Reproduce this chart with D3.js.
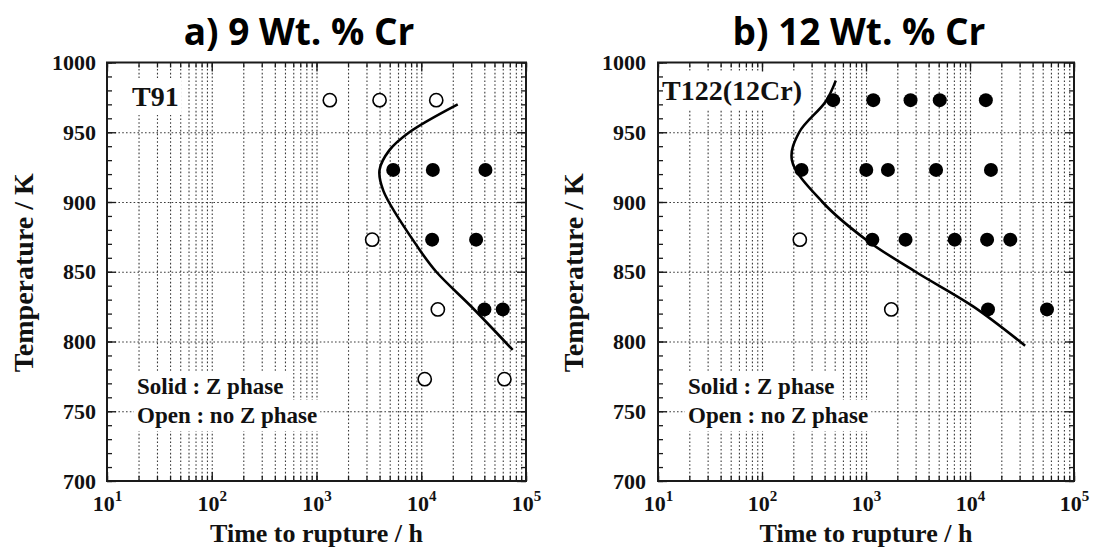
<!DOCTYPE html>
<html>
<head>
<meta charset="utf-8">
<script src="https://cdn.jsdelivr.net/npm/d3@7"></script>
<style>
  html, body { margin: 0; padding: 0; background: #fff; }
  svg { display: block; }
</style>
</head>
<body>
<svg id="fig" width="1096" height="554"></svg>
<script>
// ---- Creep-rupture data: [time to rupture (h), test temperature (K)] ----

// a) T91, 9 wt.% Cr
const t91Solid = [
  [5400, 923], [12900, 923], [41000, 923],
  [12700, 873], [33400, 873],
  [40100, 823], [60000, 823]
];
const t91Open = [
  [1340, 973], [4000, 973], [13900, 973],
  [3400, 873],
  [14400, 823],
  [10800, 773], [62200, 773]
];
// Z-phase formation boundary
const t91BoundaryTime = [22300, 7700, 4950, 4000, 4350, 9600, 13900, 31000, 74600];
const t91BoundaryTemp = [970, 950, 937, 923, 908, 866, 850, 824, 794];

// b) T122, 12 wt.% Cr
const t122Solid = [
  [483, 973], [1175, 973], [2680, 973], [5120, 973], [14200, 973],
  [240, 923], [1006, 923], [1625, 923], [4720, 923], [15900, 923],
  [1150, 873], [2400, 873], [7130, 873], [14600, 873], [24400, 873],
  [14900, 823], [55000, 823]
];
const t122Open = [
  [231, 873],
  [1750, 823]
];
const t122BoundaryTime = [512, 410, 228, 194, 381, 1000, 2990, 10800, 33900];
const t122BoundaryTemp = [987, 972, 950, 930, 900, 873, 850, 825, 797];

// ---- Axes ----
const timeDomain = [10, 1e5];
const tempDomain = [700, 1000];
const timeLabelValues = [1e1, 1e2, 1e3, 1e4, 1e5];
const tempLabelValues = [700, 750, 800, 850, 900, 950, 1000];
const tempGridValues = [750, 800, 850, 900, 950];
const panelTitles = ["a) 9 Wt. % Cr", "b) 12 Wt. % Cr"];
const steelNames = ["T91", "T122(12Cr)"];
const legendLines = ["Solid : Z phase", "Open : no Z phase"];
const xAxisTitle = "Time to rupture / h";
const yAxisTitle = "Temperature / K";

// ---- Layout ----
const SERIF = "'Liberation Serif', 'Times New Roman', serif";
const SANS = "'Open Sans', 'Noto Sans', sans-serif";
const plotTop = 62.5, plotBottom = 481;

const panels = [
  {
    title: panelTitles[0], name: steelNames[0],
    solid: t91Solid, open: t91Open,
    bTime: t91BoundaryTime, bTemp: t91BoundaryTemp,
    x0: 107, x1: 526, titleX: 299, nameDx: 25, nameY: 106, legendDx: 30,
    yTitleX: 33, yPad: 11
  },
  {
    title: panelTitles[1], name: steelNames[1],
    solid: t122Solid, open: t122Open,
    bTime: t122BoundaryTime, bTemp: t122BoundaryTemp,
    x0: 658, x1: 1074, titleX: 859, nameDx: 4, nameY: 100, legendDx: 30,
    yTitleX: 583, yPad: 12
  }
];

const svg = d3.select("#fig");
svg.append("rect").attr("width", 1096).attr("height", 554).attr("fill", "#fff");

panels.forEach(p => {
  const w = p.x1 - p.x0, h = plotBottom - plotTop;
  const x = d3.scaleLog().domain(timeDomain).range([0, w]);
  const y = d3.scaleLinear().domain(tempDomain).range([h, 0]);

  const g = svg.append("g").attr("transform", `translate(${p.x0},${plotTop})`);
  const gridG = g.append("g");
  const maskG = g.append("g");
  const dataG = g.append("g");
  const tickG = g.append("g");
  const textG = g.append("g");

  const allTimeTicks = x.ticks();
  const innerTimeTicks = allTimeTicks.filter(v => v > timeDomain[0] && v < timeDomain[1]);

  // dotted grid
  const vGrid = gridG.append("g").attr("transform", `translate(0,${h})`)
    .call(d3.axisBottom(x).tickValues(innerTimeTicks).tickSize(-h).tickFormat(""));
  const hGrid = gridG.append("g")
    .call(d3.axisLeft(y).tickValues(tempGridValues).tickSize(-w).tickFormat(""));
  [vGrid, hGrid].forEach(a => {
    a.select(".domain").remove();
    a.selectAll("line").attr("stroke", "#3a3a3a").attr("stroke-width", 1.1)
      .attr("stroke-dasharray", "1.6,2.2");
  });

  // boundary curve
  const curvePts = p.bTime.map((t, i) => [t, p.bTemp[i]]);
  dataG.append("path")
    .datum(curvePts)
    .attr("fill", "none").attr("stroke", "#000").attr("stroke-width", 2.6)
    .attr("d", d3.line().x(d => x(d[0])).y(d => y(d[1])).curve(d3.curveCatmullRom.alpha(0.5)));

  // markers
  dataG.selectAll("circle.solid").data(p.solid).join("circle")
    .attr("class", "solid")
    .attr("cx", d => x(d[0])).attr("cy", d => y(d[1])).attr("r", 7)
    .attr("fill", "#000");
  dataG.selectAll("circle.open").data(p.open).join("circle")
    .attr("class", "open")
    .attr("cx", d => x(d[0])).attr("cy", d => y(d[1])).attr("r", 6.6)
    .attr("fill", "#fff").attr("stroke", "#000").attr("stroke-width", 1.6);

  // inward ticks on all four sides
  const tempMinor = d3.range(tempDomain[0], tempDomain[1] + 1, 10);
  const timeMajor = timeLabelValues;
  const tickSets = [
    g => g.attr("transform", `translate(0,${h})`).call(d3.axisBottom(x).tickValues(allTimeTicks).tickSize(-5).tickFormat("")),
    g => g.attr("transform", `translate(0,${h})`).call(d3.axisBottom(x).tickValues(timeMajor).tickSize(-9).tickFormat("")),
    g => g.call(d3.axisTop(x).tickValues(allTimeTicks).tickSize(-5).tickFormat("")),
    g => g.call(d3.axisTop(x).tickValues(timeMajor).tickSize(-9).tickFormat("")),
    g => g.call(d3.axisLeft(y).tickValues(tempMinor).tickSize(-5).tickFormat("")),
    g => g.call(d3.axisLeft(y).tickValues(tempLabelValues).tickSize(-9).tickFormat("")),
    g => g.attr("transform", `translate(${w},0)`).call(d3.axisRight(y).tickValues(tempMinor).tickSize(-5).tickFormat("")),
    g => g.attr("transform", `translate(${w},0)`).call(d3.axisRight(y).tickValues(tempLabelValues).tickSize(-9).tickFormat(""))
  ];
  tickSets.forEach(fn => {
    const a = tickG.append("g").call(fn);
    a.select(".domain").remove();
    a.selectAll("line").attr("stroke", "#1a1a1a").attr("stroke-width", 1.3);
  });

  // frame
  tickG.append("rect").attr("width", w).attr("height", h)
    .attr("fill", "none").attr("stroke", "#1a1a1a").attr("stroke-width", 2);

  // tick labels
  const yAx = textG.append("g")
    .call(d3.axisLeft(y).tickValues(tempLabelValues).tickSize(0).tickPadding(p.yPad)
      .tickFormat(d3.format("d")));
  yAx.select(".domain").remove();
  yAx.selectAll("text").attr("font-family", SERIF).attr("font-weight", "bold")
    .attr("font-size", 22).attr("fill", "#111");

  const xAx = textG.append("g").attr("transform", `translate(0,${h})`)
    .call(d3.axisBottom(x).tickValues(timeLabelValues).tickSize(0).tickPadding(10).tickFormat(""));
  xAx.select(".domain").remove();
  xAx.selectAll(".tick text")
    .attr("font-family", SERIF).attr("font-weight", "bold").attr("font-size", 22)
    .attr("fill", "#111").attr("dy", "0.9em")
    .each(function(d) {
      const t = d3.select(this);
      t.append("tspan").text("10");
      t.append("tspan").attr("font-size", 15).attr("dy", -10).text(Math.round(Math.log10(d)));
    });

  // axis titles
  textG.append("text")
    .attr("x", w / 2).attr("y", 542 - plotTop)
    .attr("text-anchor", "middle")
    .attr("font-family", SERIF).attr("font-weight", "bold").attr("font-size", 26)
    .attr("fill", "#111").text(xAxisTitle);
  svg.append("text")
    .attr("transform", `translate(${p.yTitleX},${(plotTop + plotBottom) / 2 + 1}) rotate(-90)`)
    .attr("text-anchor", "middle")
    .attr("font-family", SERIF).attr("font-weight", "bold").attr("font-size", 28)
    .attr("fill", "#111").text(yAxisTitle);

  // panel title
  svg.append("text")
    .attr("x", p.titleX).attr("y", 45)
    .attr("text-anchor", "middle")
    .attr("font-family", SANS).attr("font-weight", 700).attr("font-size", 37)
    .attr("fill", "#000").text(p.title);

  // steel name and legend, each on a white patch that breaks the grid
  const nameT = textG.append("text")
    .attr("x", p.nameDx).attr("y", p.nameY - plotTop)
    .attr("font-family", SERIF).attr("font-weight", "bold").attr("font-size", 28)
    .attr("fill", "#111").text(p.name);
  const legT = legendLines.map((s, i) => textG.append("text")
    .attr("x", p.legendDx).attr("y", 394 - plotTop + i * 29)
    .attr("font-family", SERIF).attr("font-weight", "bold").attr("font-size", 23)
    .attr("fill", "#111").text(s));

  const pad = 3;
  [nameT, ...legT].forEach(t => {
    const b = t.node().getBBox();
    maskG.append("rect")
      .attr("x", b.x - pad).attr("y", b.y - pad)
      .attr("width", b.width + 2 * pad).attr("height", b.height + 2 * pad)
      .attr("fill", "#fff");
  });
});
</script>
</body>
</html>
